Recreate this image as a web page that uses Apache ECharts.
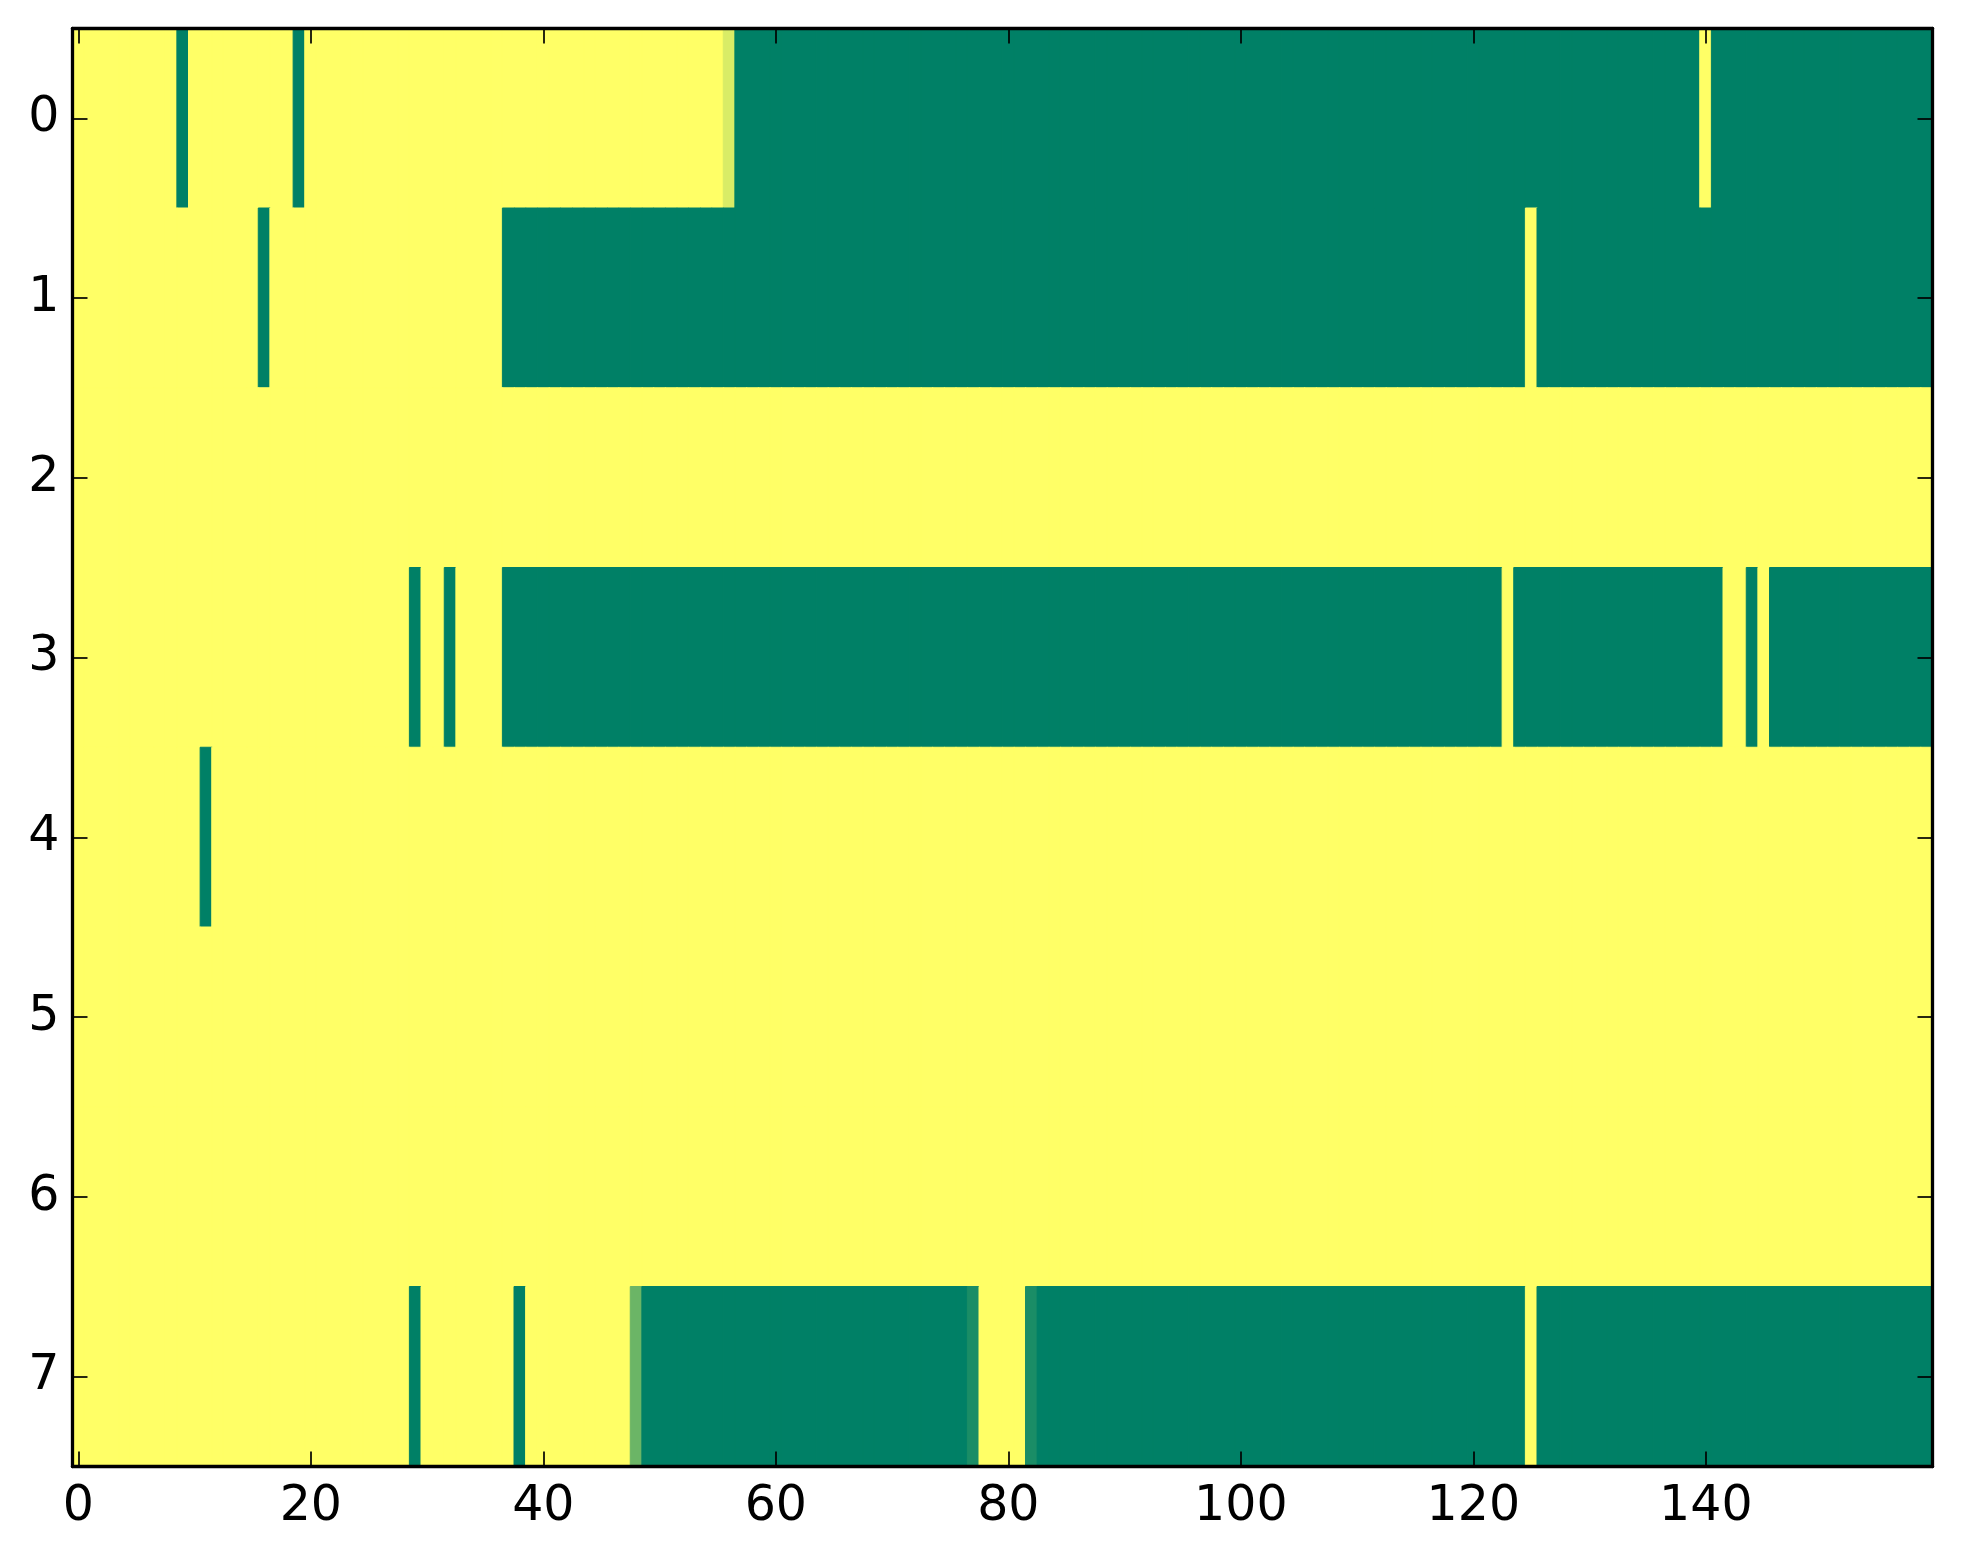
<!DOCTYPE html>
<html>
<head>
<meta charset="utf-8">
<script src="https://cdn.jsdelivr.net/npm/echarts@6/dist/echarts.min.js"></script>
<style>
html,body{margin:0;padding:0;background:#fff;}
#chart{width:1963px;height:1564px;}
</style>
</head>
<body>
<div id="chart"></div>
<script>
// Row labels (y axis, top to bottom)
const rowLabels = ['0','1','2','3','4','5','6','7'];
// Column labels 0..159
const colLabels = Array.from({length:160}, (_, i) => String(i));

// Cell values per row (1 = yellow, 0 = green)
const row0 = [
1,1,1,1,1,1,1,1,1,0, 1,1,1,1,1,1,1,1,1,0, 1,1,1,1,1,1,1,1,1,1, 1,1,1,1,1,1,1,1,1,1,
1,1,1,1,1,1,1,1,1,1, 1,1,1,1,1,1,0.85,0,0,0, 0,0,0,0,0,0,0,0,0,0, 0,0,0,0,0,0,0,0,0,0,
0,0,0,0,0,0,0,0,0,0, 0,0,0,0,0,0,0,0,0,0, 0,0,0,0,0,0,0,0,0,0, 0,0,0,0,0,0,0,0,0,0,
0,0,0,0,0,0,0,0,0,0, 0,0,0,0,0,0,0,0,0,0, 1,0,0,0,0,0,0,0,0,0, 0,0,0,0,0,0,0,0,0,0];
const row1 = [
1,1,1,1,1,1,1,1,1,1, 1,1,1,1,1,1,0,1,1,1, 1,1,1,1,1,1,1,1,1,1, 1,1,1,1,1,1,1,0,0,0,
0,0,0,0,0,0,0,0,0,0, 0,0,0,0,0,0,0,0,0,0, 0,0,0,0,0,0,0,0,0,0, 0,0,0,0,0,0,0,0,0,0,
0,0,0,0,0,0,0,0,0,0, 0,0,0,0,0,0,0,0,0,0, 0,0,0,0,0,0,0,0,0,0, 0,0,0,0,0,0,0,0,0,0,
0,0,0,0,0,1,0,0,0,0, 0,0,0,0,0,0,0,0,0,0, 0,0,0,0,0,0,0,0,0,0, 0,0,0,0,0,0,0,0,0,0];
const row2 = [
1,1,1,1,1,1,1,1,1,1, 1,1,1,1,1,1,1,1,1,1, 1,1,1,1,1,1,1,1,1,1, 1,1,1,1,1,1,1,1,1,1,
1,1,1,1,1,1,1,1,1,1, 1,1,1,1,1,1,1,1,1,1, 1,1,1,1,1,1,1,1,1,1, 1,1,1,1,1,1,1,1,1,1,
1,1,1,1,1,1,1,1,1,1, 1,1,1,1,1,1,1,1,1,1, 1,1,1,1,1,1,1,1,1,1, 1,1,1,1,1,1,1,1,1,1,
1,1,1,1,1,1,1,1,1,1, 1,1,1,1,1,1,1,1,1,1, 1,1,1,1,1,1,1,1,1,1, 1,1,1,1,1,1,1,1,1,1];
const row3 = [
1,1,1,1,1,1,1,1,1,1, 1,1,1,1,1,1,1,1,1,1, 1,1,1,1,1,1,1,1,1,0, 1,1,0,1,1,1,1,0,0,0,
0,0,0,0,0,0,0,0,0,0, 0,0,0,0,0,0,0,0,0,0, 0,0,0,0,0,0,0,0,0,0, 0,0,0,0,0,0,0,0,0,0,
0,0,0,0,0,0,0,0,0,0, 0,0,0,0,0,0,0,0,0,0, 0,0,0,0,0,0,0,0,0,0, 0,0,0,0,0,0,0,0,0,0,
0,0,0,1,0,0,0,0,0,0, 0,0,0,0,0,0,0,0,0,0, 0,0,1,1,0,1,0,0,0,0, 0,0,0,0,0,0,0,0,0,0];
const row4 = [
1,1,1,1,1,1,1,1,1,1, 1,0,1,1,1,1,1,1,1,1, 1,1,1,1,1,1,1,1,1,1, 1,1,1,1,1,1,1,1,1,1,
1,1,1,1,1,1,1,1,1,1, 1,1,1,1,1,1,1,1,1,1, 1,1,1,1,1,1,1,1,1,1, 1,1,1,1,1,1,1,1,1,1,
1,1,1,1,1,1,1,1,1,1, 1,1,1,1,1,1,1,1,1,1, 1,1,1,1,1,1,1,1,1,1, 1,1,1,1,1,1,1,1,1,1,
1,1,1,1,1,1,1,1,1,1, 1,1,1,1,1,1,1,1,1,1, 1,1,1,1,1,1,1,1,1,1, 1,1,1,1,1,1,1,1,1,1];
const row5 = [
1,1,1,1,1,1,1,1,1,1, 1,1,1,1,1,1,1,1,1,1, 1,1,1,1,1,1,1,1,1,1, 1,1,1,1,1,1,1,1,1,1,
1,1,1,1,1,1,1,1,1,1, 1,1,1,1,1,1,1,1,1,1, 1,1,1,1,1,1,1,1,1,1, 1,1,1,1,1,1,1,1,1,1,
1,1,1,1,1,1,1,1,1,1, 1,1,1,1,1,1,1,1,1,1, 1,1,1,1,1,1,1,1,1,1, 1,1,1,1,1,1,1,1,1,1,
1,1,1,1,1,1,1,1,1,1, 1,1,1,1,1,1,1,1,1,1, 1,1,1,1,1,1,1,1,1,1, 1,1,1,1,1,1,1,1,1,1];
const row6 = [
1,1,1,1,1,1,1,1,1,1, 1,1,1,1,1,1,1,1,1,1, 1,1,1,1,1,1,1,1,1,1, 1,1,1,1,1,1,1,1,1,1,
1,1,1,1,1,1,1,1,1,1, 1,1,1,1,1,1,1,1,1,1, 1,1,1,1,1,1,1,1,1,1, 1,1,1,1,1,1,1,1,1,1,
1,1,1,1,1,1,1,1,1,1, 1,1,1,1,1,1,1,1,1,1, 1,1,1,1,1,1,1,1,1,1, 1,1,1,1,1,1,1,1,1,1,
1,1,1,1,1,1,1,1,1,1, 1,1,1,1,1,1,1,1,1,1, 1,1,1,1,1,1,1,1,1,1, 1,1,1,1,1,1,1,1,1,1];
const row7 = [
1,1,1,1,1,1,1,1,1,1, 1,1,1,1,1,1,1,1,1,1, 1,1,1,1,1,1,1,1,1,0, 1,1,1,1,1,1,1,1,0,1,
1,1,1,1,1,1,1,1,0.42,0, 0,0,0,0,0,0,0,0,0,0, 0,0,0,0,0,0,0,0,0,0, 0,0,0,0,0,0,0,0.1,1,1,
1,1,0.1,0,0,0,0,0,0,0, 0,0,0,0,0,0,0,0,0,0, 0,0,0,0,0,0,0,0,0,0, 0,0,0,0,0,0,0,0,0,0,
0,0,0,0,0,1,0,0,0,0, 0,0,0,0,0,0,0,0,0,0, 0,0,0,0,0,0,0,0,0,0, 0,0,0,0,0,0,0,0,0,0];

const rows = [row0,row1,row2,row3,row4,row5,row6,row7];
const xTickEvery = 20;
const cmap = ['#008066','#ffff66']; // matplotlib "summer"

const cells = [];
rows.forEach((r, ri) => r.forEach((v, ci) => cells.push({
  value:[ci, ri, v],
  itemStyle:{borderColor: echarts.color.lerp(v, cmap), borderWidth: 1}
})));

const font = 'DejaVu Sans';
const lineStyle = {color:'#000', width:3.3};
const tickStyle = {color:'#000', width:1.7};
const xTickFn = (i) => i % xTickEvery === 0;

const chart = echarts.init(document.getElementById('chart'), null, {renderer:'canvas'});
chart.setOption({
  animation:false,
  backgroundColor:'#fff',
  grid:{left:72.5, top:28.5, width:1860, height:1438, containLabel:false},
  xAxis:[{
    type:'category', data:colLabels, position:'bottom', z:10,
    axisLine:{show:true, onZero:false, lineStyle:lineStyle},
    axisTick:{show:true, inside:true, length:15, alignWithLabel:true, interval:xTickFn, lineStyle:tickStyle},
    axisLabel:{show:true, interval:xTickFn, margin:16, color:'#000', fontFamily:font, fontSize:49},
    splitLine:{show:false}
  },{
    type:'category', data:colLabels, position:'top', z:10,
    axisLine:{show:true, onZero:false, lineStyle:lineStyle},
    axisTick:{show:true, inside:true, length:15, alignWithLabel:true, interval:xTickFn, lineStyle:tickStyle},
    axisLabel:{show:false}, splitLine:{show:false}
  }],
  yAxis:[{
    type:'category', data:rowLabels, inverse:true, position:'left', z:10,
    axisLine:{show:true, onZero:false, lineStyle:lineStyle},
    axisTick:{show:true, inside:true, length:15, alignWithLabel:true, lineStyle:tickStyle},
    axisLabel:{show:true, margin:13, padding:[5,0,0,0], color:'#000', fontFamily:font, fontSize:49},
    splitLine:{show:false}
  },{
    type:'category', data:rowLabels, inverse:true, position:'right', z:10,
    axisLine:{show:true, onZero:false, lineStyle:lineStyle},
    axisTick:{show:true, inside:true, length:15, alignWithLabel:true, lineStyle:tickStyle},
    axisLabel:{show:false}, splitLine:{show:false}
  }],
  visualMap:{show:false, type:'continuous', min:0, max:1, dimension:2,
    inRange:{color:cmap}},
  series:[{
    type:'heatmap', xAxisIndex:0, yAxisIndex:0, data:cells,
    emphasis:{disabled:true},
    progressive:0
  }]
});
</script>
</body>
</html>
